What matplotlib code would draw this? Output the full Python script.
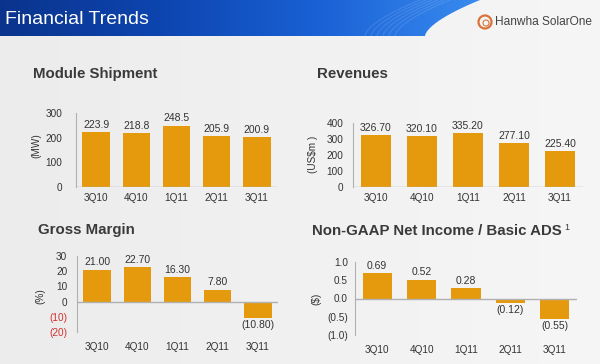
import numpy as np
import matplotlib.pyplot as plt
from matplotlib.colors import LinearSegmentedColormap
from matplotlib.patches import Circle, Polygon

plt.rcParams['font.family'] = ['Liberation Sans', 'DejaVu Sans']

quarters = ['3Q10', '4Q10', '1Q11', '2Q11', '3Q11']
shipment = [223.9, 218.8, 248.5, 205.9, 200.9]
revenues = [326.70, 320.10, 335.20, 277.10, 225.40]
gross_margin = [21.00, 22.70, 16.30, 7.80, -10.80]
net_income = [0.69, 0.52, 0.28, -0.12, -0.55]

bar_color = '#E49A0C'
text_color = '#333333'
axis_color = '#b0b0b0'

fig = plt.figure(figsize=(6, 3.64), dpi=100)

# background
bg = fig.add_axes([0, 0, 1, 1], zorder=-10)
bg.set_xlim(0, 600)
bg.set_ylim(364, 0)
bg.axis('off')
grad = np.linspace(0, 1, 256).reshape(1, -1)
bg.imshow(np.vstack([grad, grad]), extent=[0, 600, 364, 0], aspect='auto',
          cmap=LinearSegmentedColormap.from_list('g', ['#ececec', '#f6f6f6']))

# header banner with curved right edge
ys = np.linspace(0, 36, 30)
xs = 425 + 55 * (1 - ys / 36) ** 1.6
banner = Polygon(np.vstack([[[0, 0]], np.column_stack([xs, ys]), [[0, 36]]]),
                 closed=True, fc='none', ec='none')
bg.add_patch(banner)
img = bg.imshow(np.vstack([grad, grad]), extent=[0, 485, 36, 0], aspect='auto',
                cmap=LinearSegmentedColormap.from_list('b', ['#0a348c', '#0d45b0', '#1a62d6', '#3a8cf0']))
img.set_clip_path(banner)
for k in range(6):
    off = k * 6
    bg.plot(xs - 60 + off, ys, color='white', alpha=0.12, lw=0.8)

bg.text(5, 19, 'Financial Trends', color='white', fontsize=14, va='center', ha='left')
bg.add_patch(Circle((485, 22), 6.5, fill=False, ec='#d8743a', lw=1.6))
bg.add_patch(Circle((486, 23), 3, fill=False, ec='#d8743a', lw=0.8))
bg.text(495, 22, 'Hanwha SolarOne', color='#444444', fontsize=8.6, va='center', ha='left')

# panel titles
title_kw = dict(fontsize=10.8, fontweight='bold', color='#3a3a3a', va='center')
bg.text(33, 74, 'Module Shipment', **title_kw)
bg.text(317, 74, 'Revenues', **title_kw)
bg.text(38, 230, 'Gross Margin', **title_kw)
bg.text(312, 231, 'Non-GAAP Net Income / Basic ADS', **title_kw)
bg.text(564, 227, '1', fontsize=6.5, color='#3a3a3a', va='center')

# axis unit labels
unit_kw = dict(fontsize=7.2, color=text_color, rotation=90, ha='center', va='center')
bg.text(36, 146, '(MW)', **unit_kw)
bg.text(313, 154, '(US$m )', **unit_kw)
bg.text(40, 296, '(%)', **unit_kw)
bg.text(316, 299, '($)', **unit_kw)


def panel(rect, values, ylim, yticks, yticklabels, fmt, neg_red=False, width=0.68, pad=4, ypad=10):
    ax = fig.add_axes(rect)
    ax.patch.set_alpha(0)
    x = np.arange(len(values))
    ax.bar(x, values, width=width, color=bar_color, zorder=2)
    ax.set_xlim(-0.5, len(values) - 0.5)
    ax.set_ylim(*ylim)
    ax.set_yticks(yticks)
    ax.set_yticklabels(yticklabels)
    ax.set_xticks(x)
    ax.set_xticklabels(quarters)
    ax.tick_params(length=0, labelsize=7.2, colors=text_color, pad=pad)
    ax.tick_params(axis='y', pad=ypad)
    for s in ['top', 'right', 'bottom']:
        ax.spines[s].set_visible(False)
    ax.spines['left'].set_color(axis_color)
    ax.axhline(0, color=axis_color, lw=1, zorder=3)
    if neg_red:
        for lab, v in zip(ax.get_yticklabels(), yticks):
            if v < 0:
                lab.set_color('#d03030')
    rng = ylim[1] - ylim[0]
    for xi, v in zip(x, values):
        if v >= 0:
            ax.text(xi, v + rng * 0.03, fmt(v), ha='center', va='bottom', fontsize=7.5, color=text_color)
        else:
            ax.text(xi, v - rng * 0.03, fmt(v), ha='center', va='top', fontsize=7.5, color=text_color)
    return ax


def paren(d):
    return lambda v: ('{:.%df}' % d).format(v) if v >= 0 else ('({:.%df})' % d).format(-v)


panel([76 / 600, 1 - 187 / 364, 201 / 600, 74 / 364], shipment, (0, 300),
      [0, 100, 200, 300], ['0', '100', '200', '300'], lambda v: '%.1f' % v)
panel([353 / 600, 1 - 187 / 364, 230 / 600, 64 / 364], revenues, (0, 400),
      [0, 100, 200, 300, 400], ['0', '100', '200', '300', '400'], lambda v: '%.2f' % v,
      width=0.65, ypad=7)
panel([77 / 600, 1 - 332 / 364, 201 / 600, 76 / 364], gross_margin, (-20, 30),
      [-20, -10, 0, 10, 20, 30], ['(20)', '(10)', '0', '10', '20', '30'], paren(2),
      neg_red=True, pad=7, ypad=7)
panel([355 / 600, 1 - 335 / 364, 222 / 600, 73 / 364], net_income, (-1, 1),
      [-1, -0.5, 0, 0.5, 1], ['(1.0)', '(0.5)', '0.0', '0.5', '1.0'], paren(2),
      width=0.66, pad=7, ypad=5)

fig.savefig('out.png', dpi=100)
